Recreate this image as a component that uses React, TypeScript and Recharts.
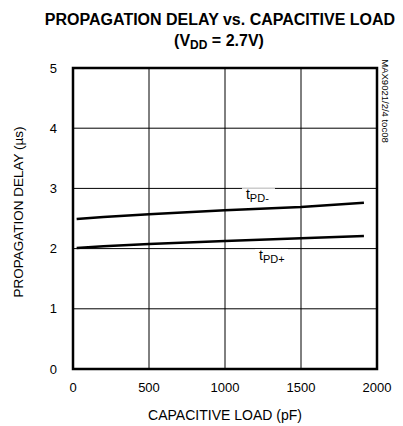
import React from "react";
import {
  LineChart,
  Line,
  XAxis,
  YAxis,
  CartesianGrid,
  ReferenceArea,
  ReferenceDot,
} from "recharts";

const loads = [24, 200, 500, 1000, 1500, 1914];
const tpdMinus = [2.49, 2.525, 2.57, 2.635, 2.69, 2.76];
const tpdPlus = [2.01, 2.04, 2.075, 2.125, 2.17, 2.21];
const xTicks = [0, 500, 1000, 1500, 2000];
const yTicks = [0, 1, 2, 3, 4, 5];

const data = loads.map((x, i) => ({ x, minus: tpdMinus[i], plus: tpdPlus[i] }));

const FONT = "'Liberation Sans Narrow', 'Arial Narrow', 'Liberation Sans', Arial, sans-serif";

const W = 403;
const H = 426;

const makeLabel = (sign: string) => (props: any) => {
  const { cx, cy } = props;
  return (
    <g>
      <rect x={cx - 16} y={cy - 8} width={33} height={16} fill="#fff" />
      <text x={cx - 12} y={cy + 3} fontFamily={FONT} fontSize={14} fill="#000">
        t
        <tspan fontSize={11} dy={3}>
          {"PD" + sign}
        </tspan>
      </text>
    </g>
  );
};

export default function App() {
  return (
    <div style={{ position: "absolute", left: 0, top: 0, width: W, height: H, background: "#fff" }}>
      <LineChart
        width={W}
        height={H}
        data={data}
        margin={{ top: 68, right: 26, left: 33, bottom: 27 }}
      >
        <CartesianGrid stroke="#000" strokeWidth={1} />
        <XAxis
          dataKey="x"
          type="number"
          domain={[0, 2000]}
          ticks={xTicks}
          height={30}
          axisLine={false}
          tickLine={false}
          tickSize={0}
          tickMargin={14}
          interval={0}
          tick={{ fill: "#000", fontSize: 13, fontFamily: FONT }}
        />
        <YAxis
          type="number"
          domain={[0, 5]}
          ticks={yTicks}
          width={40}
          axisLine={false}
          tickLine={false}
          tickSize={0}
          tickMargin={16}
          interval={0}
          tick={{ fill: "#000", fontSize: 13, fontFamily: FONT }}
        />
        <ReferenceDot x={1217} y={2.87} r={0} shape={makeLabel("-")} isFront={false} />
        <ReferenceDot x={1303} y={1.86} r={0} shape={makeLabel("+")} isFront={false} />
        <ReferenceArea
          x1={0}
          x2={2000}
          y1={0}
          y2={5}
          fill="none"
          fillOpacity={0}
          stroke="#000"
          strokeWidth={2.5}
          ifOverflow="visible"
        />
        <Line
          dataKey="minus"
          stroke="#000"
          strokeWidth={2.5}
          dot={false}
          type="linear"
          isAnimationActive={false}
        />
        <Line
          dataKey="plus"
          stroke="#000"
          strokeWidth={2.5}
          dot={false}
          type="linear"
          isAnimationActive={false}
        />
      </LineChart>
      <svg
        width={W}
        height={H}
        style={{ position: "absolute", left: 0, top: 0, pointerEvents: "none" }}
      >
        <text x={220} y={25} textAnchor="middle" fontFamily={FONT} fontWeight="bold" fontSize={16} fill="#000">
          PROPAGATION DELAY vs. CAPACITIVE LOAD
        </text>
        <text x={219} y={46} textAnchor="middle" fontFamily={FONT} fontWeight="bold" fontSize={16} fill="#000">
          (V<tspan fontSize={12} dy={3}>DD</tspan>
          <tspan dy={-3}> = 2.7V)</tspan>
        </text>
        <text x={225} y={420} textAnchor="middle" fontFamily={FONT} fontSize={14} fill="#000">
          CAPACITIVE LOAD (pF)
        </text>
        <text
          x={18}
          y={212}
          textAnchor="middle"
          dominantBaseline="central"
          transform="rotate(-90 18 212)"
          fontFamily={FONT}
          fontSize={13.5}
          fill="#000"
        >
          PROPAGATION DELAY (µs)
        </text>
        <text
          x={385}
          y={101}
          textAnchor="middle"
          dominantBaseline="central"
          transform="rotate(90 385 101)"
          fontFamily={FONT}
          fontSize={9.5}
          fill="#000"
        >
          MAX9021/2/4 toc08
        </text>
      </svg>
    </div>
  );
}
